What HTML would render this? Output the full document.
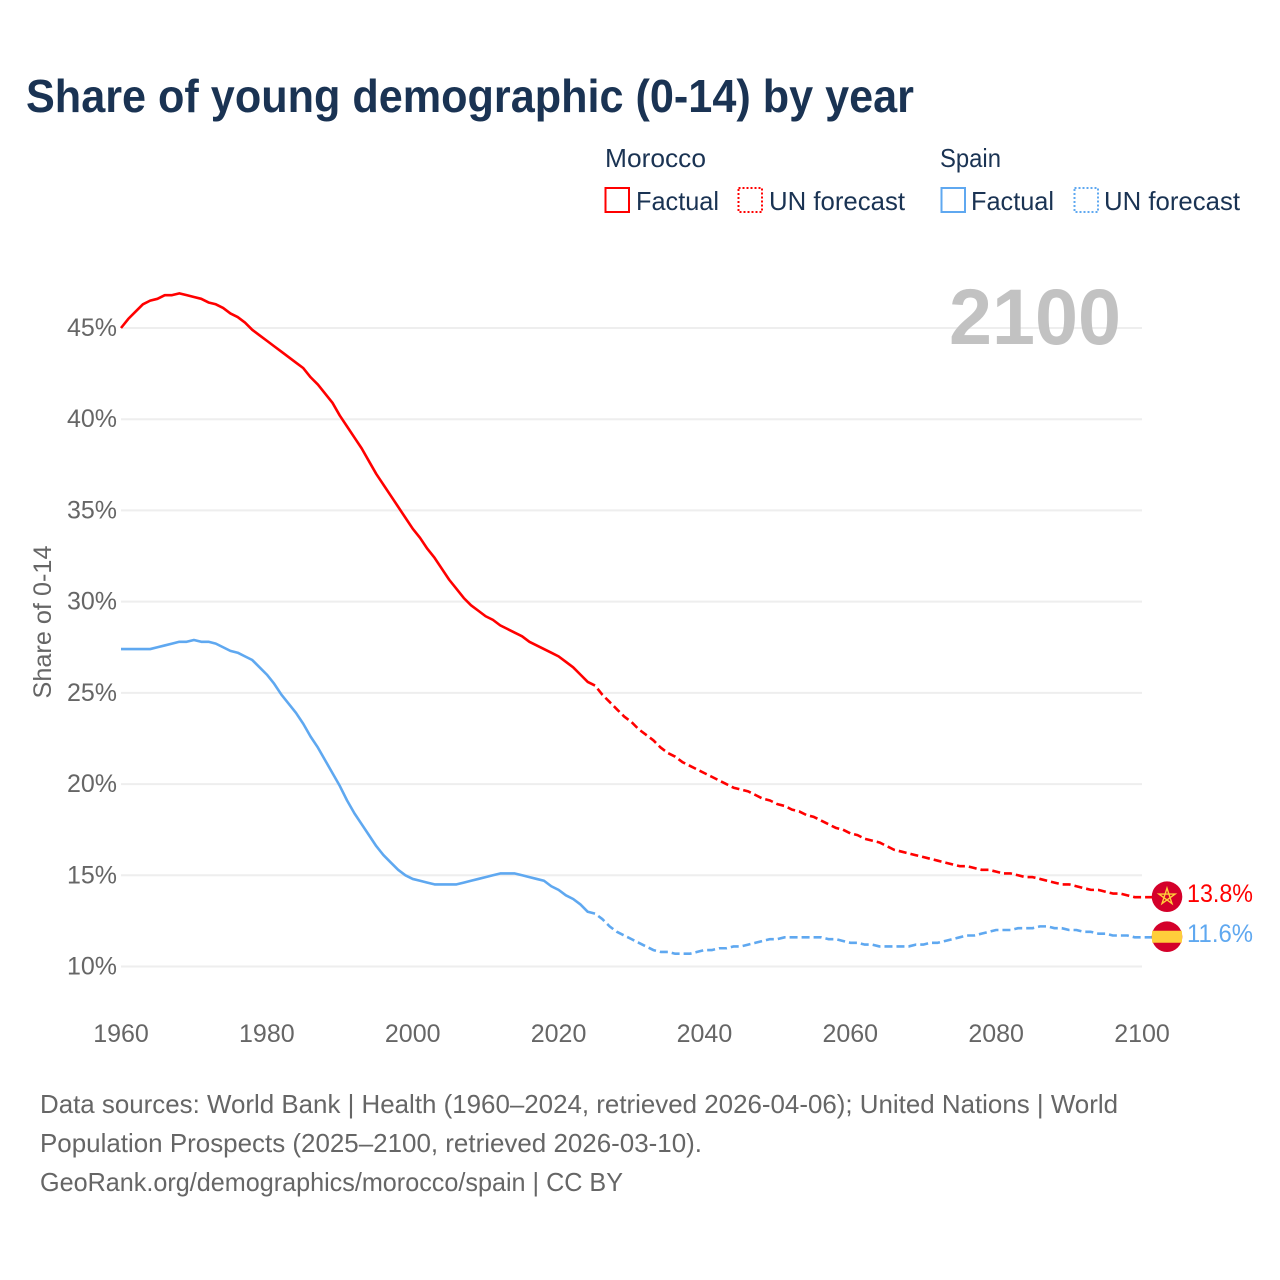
<!DOCTYPE html>
<html lang="en">
<head>
<meta charset="utf-8">
<title>Share of young demographic (0-14) by year</title>
<style>
html,body{margin:0;padding:0;background:#fff;}
svg{display:block;font-family:"Liberation Sans",Arial,sans-serif;}
</style>
</head>
<body>
<svg id="chart" xmlns="http://www.w3.org/2000/svg" width="1280" height="1280" viewBox="0 0 1280 1280">
  <rect x="0" y="0" width="1280" height="1280" fill="#ffffff"/>
  <text x="26" y="112" font-size="46" font-weight="700" fill="#1a3353" textLength="888" lengthAdjust="spacingAndGlyphs">Share of young demographic (0-14) by year</text>

  <g font-size="26" fill="#1a3353">
    <text x="605" y="167" textLength="101" lengthAdjust="spacingAndGlyphs">Morocco</text>
    <text x="940" y="167" textLength="61" lengthAdjust="spacingAndGlyphs">Spain</text>
    <g>
      <rect x="605.5" y="188" width="23.5" height="24" fill="none" stroke="#ff0000" stroke-width="2"/>
      <text x="636" y="210" textLength="83" lengthAdjust="spacingAndGlyphs">Factual</text>
    </g>
    <g>
      <rect x="738.5" y="188" width="23.5" height="24" fill="none" stroke="#ff0000" stroke-width="2" stroke-dasharray="2 2"/>
      <text x="769" y="210" textLength="136" lengthAdjust="spacingAndGlyphs">UN forecast</text>
    </g>
    <g>
      <rect x="941.5" y="188" width="23.5" height="24" fill="none" stroke="#5fa8f0" stroke-width="2"/>
      <text x="971" y="210" textLength="83" lengthAdjust="spacingAndGlyphs">Factual</text>
    </g>
    <g>
      <rect x="1074.5" y="188" width="23.5" height="24" fill="none" stroke="#5fa8f0" stroke-width="2" stroke-dasharray="2 2"/>
      <text x="1104" y="210" textLength="136" lengthAdjust="spacingAndGlyphs">UN forecast</text>
    </g>
  </g>

  <g id="gridlines"></g>
  <g id="y-ticks"></g>
  <g id="x-ticks"></g>

  <text x="949" y="344" font-size="79" font-weight="700" fill="#c2c2c2" textLength="172" lengthAdjust="spacingAndGlyphs">2100</text>
  <text transform="translate(51,622) rotate(-90)" text-anchor="middle" font-size="25" fill="#666666" textLength="153" lengthAdjust="spacingAndGlyphs">Share of 0-14</text>

  <g id="series"></g>

  <g>
    <circle cx="1167" cy="896.7" r="15.3" fill="#d4002a"/>
    <polygon points="1167,888.2 1172,903.6 1158.9,894.1 1175.1,894.1 1162,903.6" fill="none" stroke="#ffce3b" stroke-width="1.4"/>
  </g>
  <g>
    <circle cx="1167" cy="936.7" r="15.3" fill="#d4002a"/>
    <path d="M1152.2 930.7 H1181.8 Q1182.6 936.7 1181.8 942.7 H1152.2 Q1151.4 936.7 1152.2 930.7 Z" fill="#ffce3b"/>
  </g>
  <text id="morocco-value" x="1187" y="902" font-size="25" fill="#ff0000" textLength="66" lengthAdjust="spacingAndGlyphs"></text>
  <text id="spain-value" x="1187" y="942" font-size="25" fill="#5fa8f0" textLength="66" lengthAdjust="spacingAndGlyphs"></text>

  <g font-size="26" fill="#666666">
    <text x="40" y="1113" textLength="1078" lengthAdjust="spacingAndGlyphs">Data sources: World Bank | Health (1960–2024, retrieved 2026-04-06); United Nations | World</text>
    <text x="40" y="1152" textLength="662" lengthAdjust="spacingAndGlyphs">Population Prospects (2025–2100, retrieved 2026-03-10).</text>
    <text x="40" y="1191" textLength="583" lengthAdjust="spacingAndGlyphs">GeoRank.org/demographics/morocco/spain | CC BY</text>
  </g>
</svg>
<script>
var xTickLabels = [1960, 1980, 2000, 2020, 2040, 2060, 2080, 2100];
var yTickLabels = [10, 15, 20, 25, 30, 35, 40, 45];
var factualStartYear = 1960;
var forecastStartYear = 2025;
var moroccoFactual = [
  45.0,45.5,45.9,46.3,46.5,46.6,46.8,46.8,46.9,46.8,
  46.7,46.6,46.4,46.3,46.1,45.8,45.6,45.3,44.9,44.6,
  44.3,44.0,43.7,43.4,43.1,42.8,42.3,41.9,41.4,40.9,
  40.2,39.6,39.0,38.4,37.7,37.0,36.4,35.8,35.2,34.6,
  34.0,33.5,32.9,32.4,31.8,31.2,30.7,30.2,29.8,29.5,
  29.2,29.0,28.7,28.5,28.3,28.1,27.8,27.6,27.4,27.2,
  27.0,26.7,26.4,26.0,25.6,25.4
];
var moroccoForecast = [
  25.4,24.9,24.5,24.1,23.7,23.4,23.0,22.7,22.4,22.0,21.7,21.5,21.2,21.0,20.8,
  20.6,20.4,20.2,20.0,19.8,19.7,19.6,19.4,19.2,19.1,
  18.9,18.8,18.6,18.5,18.3,18.2,18.0,17.8,17.6,17.5,
  17.3,17.2,17.0,16.9,16.8,16.6,16.4,16.3,16.2,16.1,
  16.0,15.9,15.8,15.7,15.6,15.5,15.5,15.4,15.3,15.3,
  15.2,15.1,15.1,15.0,14.9,14.9,14.8,14.7,14.6,14.5,
  14.5,14.4,14.3,14.2,14.2,14.1,14.0,14.0,13.9,13.8,13.8
];
var spainFactual = [
  27.4,27.4,27.4,27.4,27.4,27.5,27.6,27.7,27.8,27.8,
  27.9,27.8,27.8,27.7,27.5,27.3,27.2,27.0,26.8,26.4,
  26.0,25.5,24.9,24.4,23.9,23.3,22.6,22.0,21.3,20.6,
  19.9,19.1,18.4,17.8,17.2,16.6,16.1,15.7,15.3,15.0,
  14.8,14.7,14.6,14.5,14.5,14.5,14.5,14.6,14.7,14.8,
  14.9,15.0,15.1,15.1,15.1,15.0,14.9,14.8,14.7,14.4,
  14.2,13.9,13.7,13.4,13.0,12.9
];
var spainForecast = [
  12.9,12.6,12.2,11.9,11.7,11.5,11.3,11.1,10.9,10.8,10.8,10.7,10.7,10.7,10.8,
  10.9,10.9,11.0,11.0,11.1,11.1,11.2,11.3,11.4,11.5,
  11.5,11.6,11.6,11.6,11.6,11.6,11.6,11.5,11.5,11.4,
  11.3,11.3,11.2,11.2,11.1,11.1,11.1,11.1,11.1,11.2,
  11.2,11.3,11.3,11.4,11.5,11.6,11.7,11.7,11.8,11.9,
  12.0,12.0,12.0,12.1,12.1,12.1,12.2,12.2,12.1,12.1,
  12.0,12.0,11.9,11.9,11.8,11.8,11.7,11.7,11.7,11.6,11.6
];

var NS = 'http://www.w3.org/2000/svg';
var RED = '#ff0000';
var BLUE = '#5fa8f0';
var FLAG_EDGE_X = 1152;

function xScale(year) { return 121 + (year - 1960) * (1142 - 121) / 140; }
function yScale(pct) { return 966.5 - (pct - 10) * (966.5 - 328) / 35; }

var gridGroup = document.getElementById('gridlines');
var yTickGroup = document.getElementById('y-ticks');
var xTickGroup = document.getElementById('x-ticks');
var seriesGroup = document.getElementById('series');

yTickLabels.forEach(function (v) {
  var line = document.createElementNS(NS, 'line');
  
  
  line.setAttribute('x1', xScale(1960));
  line.setAttribute('x2', xScale(2100));
  line.setAttribute('y1', yScale(v));
  line.setAttribute('y2', yScale(v));
  line.setAttribute('stroke', '#eeeeee');
  line.setAttribute('stroke-width', '2');
  gridGroup.appendChild(line);

  var label = document.createElementNS(NS, 'text');
  
  
  label.setAttribute('x', 117);
  label.setAttribute('y', yScale(v) + 8);
  label.setAttribute('text-anchor', 'end');
  label.setAttribute('font-size', '25');
  label.setAttribute('fill', '#666666');
  label.textContent = v + '%';
  yTickGroup.appendChild(label);
});

xTickLabels.forEach(function (year) {
  var label = document.createElementNS(NS, 'text');
  
  
  label.setAttribute('x', xScale(year));
  label.setAttribute('y', 1042);
  label.setAttribute('text-anchor', 'middle');
  label.setAttribute('font-size', '25');
  label.setAttribute('fill', '#666666');
  label.textContent = year;
  xTickGroup.appendChild(label);
});

function linePath(values, startYear) {
  return values.map(function (v, i) {
    return (i ? 'L' : 'M') + xScale(startYear + i).toFixed(2) + ' ' + yScale(v).toFixed(2);
  }).join(' ');
}

function drawSeries(name, values, startYear, color, dashed) {
  var path = document.createElementNS(NS, 'path');
  
  
  var d = linePath(values, startYear);
  if (dashed) {
    d += ' L' + FLAG_EDGE_X + ' ' + yScale(values[values.length - 1]).toFixed(2);
    path.setAttribute('stroke-dasharray', '8 4');
    path.setAttribute('stroke-dashoffset', '-4');
  }
  path.setAttribute('d', d);
  path.setAttribute('fill', 'none');
  path.setAttribute('stroke', color);
  path.setAttribute('stroke-width', '2.6');
  path.setAttribute('stroke-linejoin', 'round');
  seriesGroup.appendChild(path);
}

drawSeries('morocco-factual-line', moroccoFactual, factualStartYear, RED, false);
drawSeries('morocco-forecast-line', moroccoForecast, forecastStartYear, RED, true);
drawSeries('spain-factual-line', spainFactual, factualStartYear, BLUE, false);
drawSeries('spain-forecast-line', spainForecast, forecastStartYear, BLUE, true);

document.getElementById('morocco-value').textContent = moroccoForecast[moroccoForecast.length - 1].toFixed(1) + '%';
document.getElementById('spain-value').textContent = spainForecast[spainForecast.length - 1].toFixed(1) + '%';
</script>
</body>
</html>
